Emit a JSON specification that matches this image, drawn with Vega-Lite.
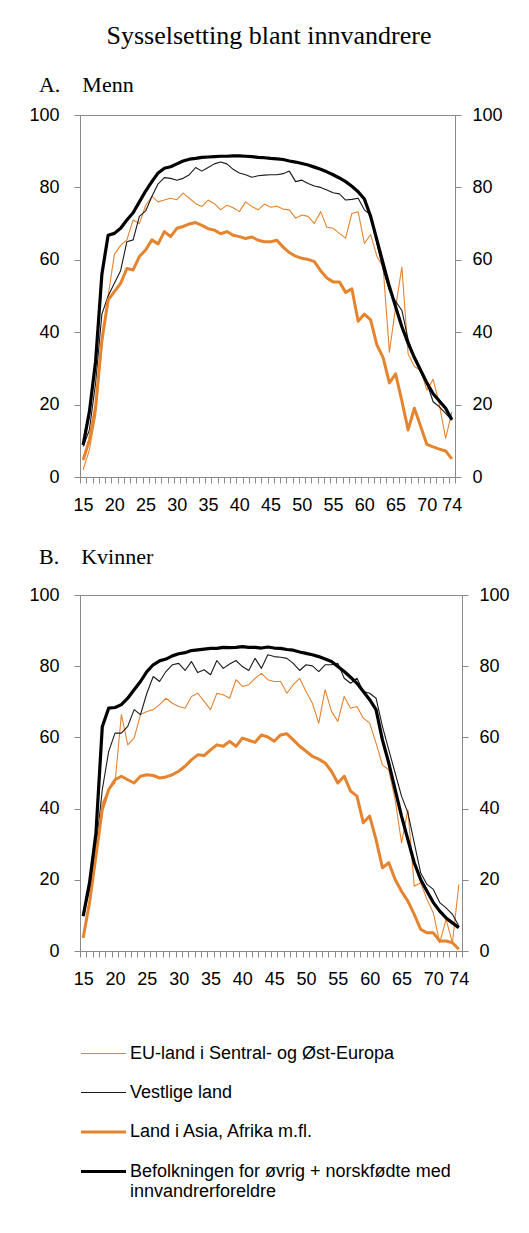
{
"$schema": "https://vega.github.io/schema/vega-lite/v6.json",
"background": "white",
"padding": {"left": 28, "top": 22, "right": 10, "bottom": 4},
"title": {"text": "Sysselsetting blant innvandrere", "font": "Liberation Serif", "fontSize": 26, "fontWeight": "normal", "color": "black", "anchor": "middle", "offset": 25},
"config": {
  "view": {"stroke": "#8a8a8a", "strokeWidth": 1},
  "axis": {"domainColor": "#8a8a8a", "tickColor": "#8a8a8a", "labelColor": "black", "labelFont": "Liberation Sans", "labelFontSize": 18, "grid": false, "title": null, "tickSize": 6}
},
"spacing": 30,
"resolve": {"scale": {"x": "independent", "y": "independent", "color": "shared", "strokeWidth": "shared"}},
"datasets": {"syss": [
{"kjonn":"Menn","gruppe":"EU","alder":15,"andel":2},{"kjonn":"Menn","gruppe":"EU","alder":16,"andel":7.5},{"kjonn":"Menn","gruppe":"EU","alder":17,"andel":17},{"kjonn":"Menn","gruppe":"EU","alder":18,"andel":36},{"kjonn":"Menn","gruppe":"EU","alder":19,"andel":50},{"kjonn":"Menn","gruppe":"EU","alder":20,"andel":61.5},{"kjonn":"Menn","gruppe":"EU","alder":21,"andel":64},{"kjonn":"Menn","gruppe":"EU","alder":22,"andel":65.5},{"kjonn":"Menn","gruppe":"EU","alder":23,"andel":71},{"kjonn":"Menn","gruppe":"EU","alder":24,"andel":70},
{"kjonn":"Menn","gruppe":"EU","alder":25,"andel":75},{"kjonn":"Menn","gruppe":"EU","alder":26,"andel":77.5},{"kjonn":"Menn","gruppe":"EU","alder":27,"andel":76},{"kjonn":"Menn","gruppe":"EU","alder":28,"andel":76.5},{"kjonn":"Menn","gruppe":"EU","alder":29,"andel":77},{"kjonn":"Menn","gruppe":"EU","alder":30,"andel":76.6},{"kjonn":"Menn","gruppe":"EU","alder":31,"andel":78.4},{"kjonn":"Menn","gruppe":"EU","alder":32,"andel":77},{"kjonn":"Menn","gruppe":"EU","alder":33,"andel":75.5},{"kjonn":"Menn","gruppe":"EU","alder":34,"andel":74.7},
{"kjonn":"Menn","gruppe":"EU","alder":35,"andel":76.5},{"kjonn":"Menn","gruppe":"EU","alder":36,"andel":75.5},{"kjonn":"Menn","gruppe":"EU","alder":37,"andel":73.8},{"kjonn":"Menn","gruppe":"EU","alder":38,"andel":75.1},{"kjonn":"Menn","gruppe":"EU","alder":39,"andel":74.4},{"kjonn":"Menn","gruppe":"EU","alder":40,"andel":73.3},{"kjonn":"Menn","gruppe":"EU","alder":41,"andel":76},{"kjonn":"Menn","gruppe":"EU","alder":42,"andel":74.7},{"kjonn":"Menn","gruppe":"EU","alder":43,"andel":73.8},{"kjonn":"Menn","gruppe":"EU","alder":44,"andel":75.4},
{"kjonn":"Menn","gruppe":"EU","alder":45,"andel":74.5},{"kjonn":"Menn","gruppe":"EU","alder":46,"andel":74.8},{"kjonn":"Menn","gruppe":"EU","alder":47,"andel":74},{"kjonn":"Menn","gruppe":"EU","alder":48,"andel":73.8},{"kjonn":"Menn","gruppe":"EU","alder":49,"andel":71.5},{"kjonn":"Menn","gruppe":"EU","alder":50,"andel":72.4},{"kjonn":"Menn","gruppe":"EU","alder":51,"andel":72},{"kjonn":"Menn","gruppe":"EU","alder":52,"andel":70},{"kjonn":"Menn","gruppe":"EU","alder":53,"andel":73.3},{"kjonn":"Menn","gruppe":"EU","alder":54,"andel":69},
{"kjonn":"Menn","gruppe":"EU","alder":55,"andel":68.7},{"kjonn":"Menn","gruppe":"EU","alder":56,"andel":67.3},{"kjonn":"Menn","gruppe":"EU","alder":57,"andel":66},{"kjonn":"Menn","gruppe":"EU","alder":58,"andel":72.8},{"kjonn":"Menn","gruppe":"EU","alder":59,"andel":73.3},{"kjonn":"Menn","gruppe":"EU","alder":60,"andel":64.5},{"kjonn":"Menn","gruppe":"EU","alder":61,"andel":67},{"kjonn":"Menn","gruppe":"EU","alder":62,"andel":61},{"kjonn":"Menn","gruppe":"EU","alder":63,"andel":58},{"kjonn":"Menn","gruppe":"EU","alder":64,"andel":34.5},
{"kjonn":"Menn","gruppe":"EU","alder":65,"andel":47},{"kjonn":"Menn","gruppe":"EU","alder":66,"andel":58},{"kjonn":"Menn","gruppe":"EU","alder":67,"andel":34},{"kjonn":"Menn","gruppe":"EU","alder":68,"andel":30.5},{"kjonn":"Menn","gruppe":"EU","alder":69,"andel":29.5},{"kjonn":"Menn","gruppe":"EU","alder":70,"andel":24},{"kjonn":"Menn","gruppe":"EU","alder":71,"andel":27},{"kjonn":"Menn","gruppe":"EU","alder":72,"andel":20},{"kjonn":"Menn","gruppe":"EU","alder":73,"andel":10.7},{"kjonn":"Menn","gruppe":"EU","alder":74,"andel":18},

{"kjonn":"Menn","gruppe":"Vest","alder":15,"andel":8.4},{"kjonn":"Menn","gruppe":"Vest","alder":16,"andel":13},{"kjonn":"Menn","gruppe":"Vest","alder":17,"andel":26},{"kjonn":"Menn","gruppe":"Vest","alder":18,"andel":45},{"kjonn":"Menn","gruppe":"Vest","alder":19,"andel":50},{"kjonn":"Menn","gruppe":"Vest","alder":20,"andel":53.5},{"kjonn":"Menn","gruppe":"Vest","alder":21,"andel":57},{"kjonn":"Menn","gruppe":"Vest","alder":22,"andel":65},{"kjonn":"Menn","gruppe":"Vest","alder":23,"andel":65.5},{"kjonn":"Menn","gruppe":"Vest","alder":24,"andel":72},
{"kjonn":"Menn","gruppe":"Vest","alder":25,"andel":73.5},{"kjonn":"Menn","gruppe":"Vest","alder":26,"andel":77.5},{"kjonn":"Menn","gruppe":"Vest","alder":27,"andel":81},{"kjonn":"Menn","gruppe":"Vest","alder":28,"andel":82.7},{"kjonn":"Menn","gruppe":"Vest","alder":29,"andel":82.5},{"kjonn":"Menn","gruppe":"Vest","alder":30,"andel":82},{"kjonn":"Menn","gruppe":"Vest","alder":31,"andel":82.5},{"kjonn":"Menn","gruppe":"Vest","alder":32,"andel":83.5},{"kjonn":"Menn","gruppe":"Vest","alder":33,"andel":85.5},{"kjonn":"Menn","gruppe":"Vest","alder":34,"andel":84.5},
{"kjonn":"Menn","gruppe":"Vest","alder":35,"andel":85.5},{"kjonn":"Menn","gruppe":"Vest","alder":36,"andel":86.5},{"kjonn":"Menn","gruppe":"Vest","alder":37,"andel":87},{"kjonn":"Menn","gruppe":"Vest","alder":38,"andel":86.5},{"kjonn":"Menn","gruppe":"Vest","alder":39,"andel":85},{"kjonn":"Menn","gruppe":"Vest","alder":40,"andel":84},{"kjonn":"Menn","gruppe":"Vest","alder":41,"andel":83.5},{"kjonn":"Menn","gruppe":"Vest","alder":42,"andel":82.8},{"kjonn":"Menn","gruppe":"Vest","alder":43,"andel":83.2},{"kjonn":"Menn","gruppe":"Vest","alder":44,"andel":83.4},
{"kjonn":"Menn","gruppe":"Vest","alder":45,"andel":83.5},{"kjonn":"Menn","gruppe":"Vest","alder":46,"andel":83.5},{"kjonn":"Menn","gruppe":"Vest","alder":47,"andel":83.8},{"kjonn":"Menn","gruppe":"Vest","alder":48,"andel":84.5},{"kjonn":"Menn","gruppe":"Vest","alder":49,"andel":81.6},{"kjonn":"Menn","gruppe":"Vest","alder":50,"andel":82},{"kjonn":"Menn","gruppe":"Vest","alder":51,"andel":81.1},{"kjonn":"Menn","gruppe":"Vest","alder":52,"andel":80.4},{"kjonn":"Menn","gruppe":"Vest","alder":53,"andel":80},{"kjonn":"Menn","gruppe":"Vest","alder":54,"andel":79.3},
{"kjonn":"Menn","gruppe":"Vest","alder":55,"andel":78.5},{"kjonn":"Menn","gruppe":"Vest","alder":56,"andel":78.2},{"kjonn":"Menn","gruppe":"Vest","alder":57,"andel":76.5},{"kjonn":"Menn","gruppe":"Vest","alder":58,"andel":76.7},{"kjonn":"Menn","gruppe":"Vest","alder":59,"andel":77},{"kjonn":"Menn","gruppe":"Vest","alder":60,"andel":73.8},{"kjonn":"Menn","gruppe":"Vest","alder":61,"andel":72.4},{"kjonn":"Menn","gruppe":"Vest","alder":62,"andel":64.5},{"kjonn":"Menn","gruppe":"Vest","alder":63,"andel":57.2},{"kjonn":"Menn","gruppe":"Vest","alder":64,"andel":51.5},
{"kjonn":"Menn","gruppe":"Vest","alder":65,"andel":48.5},{"kjonn":"Menn","gruppe":"Vest","alder":66,"andel":46},{"kjonn":"Menn","gruppe":"Vest","alder":67,"andel":38},{"kjonn":"Menn","gruppe":"Vest","alder":68,"andel":33},{"kjonn":"Menn","gruppe":"Vest","alder":69,"andel":29.5},{"kjonn":"Menn","gruppe":"Vest","alder":70,"andel":26},{"kjonn":"Menn","gruppe":"Vest","alder":71,"andel":20.8},{"kjonn":"Menn","gruppe":"Vest","alder":72,"andel":19.4},{"kjonn":"Menn","gruppe":"Vest","alder":73,"andel":17.6},{"kjonn":"Menn","gruppe":"Vest","alder":74,"andel":15.7},

{"kjonn":"Menn","gruppe":"Asia","alder":15,"andel":4.7},{"kjonn":"Menn","gruppe":"Asia","alder":16,"andel":10.2},{"kjonn":"Menn","gruppe":"Asia","alder":17,"andel":19.4},{"kjonn":"Menn","gruppe":"Asia","alder":18,"andel":37.8},{"kjonn":"Menn","gruppe":"Asia","alder":19,"andel":48.9},{"kjonn":"Menn","gruppe":"Asia","alder":20,"andel":51.2},{"kjonn":"Menn","gruppe":"Asia","alder":21,"andel":53.5},{"kjonn":"Menn","gruppe":"Asia","alder":22,"andel":57.6},{"kjonn":"Menn","gruppe":"Asia","alder":23,"andel":57.2},{"kjonn":"Menn","gruppe":"Asia","alder":24,"andel":60.9},
{"kjonn":"Menn","gruppe":"Asia","alder":25,"andel":62.7},{"kjonn":"Menn","gruppe":"Asia","alder":26,"andel":65.5},{"kjonn":"Menn","gruppe":"Asia","alder":27,"andel":64.4},{"kjonn":"Menn","gruppe":"Asia","alder":28,"andel":67.8},{"kjonn":"Menn","gruppe":"Asia","alder":29,"andel":66.4},{"kjonn":"Menn","gruppe":"Asia","alder":30,"andel":68.7},{"kjonn":"Menn","gruppe":"Asia","alder":31,"andel":69.2},{"kjonn":"Menn","gruppe":"Asia","alder":32,"andel":69.9},{"kjonn":"Menn","gruppe":"Asia","alder":33,"andel":70.3},{"kjonn":"Menn","gruppe":"Asia","alder":34,"andel":69.5},
{"kjonn":"Menn","gruppe":"Asia","alder":35,"andel":68.6},{"kjonn":"Menn","gruppe":"Asia","alder":36,"andel":68.2},{"kjonn":"Menn","gruppe":"Asia","alder":37,"andel":67.2},{"kjonn":"Menn","gruppe":"Asia","alder":38,"andel":67.8},{"kjonn":"Menn","gruppe":"Asia","alder":39,"andel":66.8},{"kjonn":"Menn","gruppe":"Asia","alder":40,"andel":66.4},{"kjonn":"Menn","gruppe":"Asia","alder":41,"andel":65.9},{"kjonn":"Menn","gruppe":"Asia","alder":42,"andel":66.3},{"kjonn":"Menn","gruppe":"Asia","alder":43,"andel":65.4},{"kjonn":"Menn","gruppe":"Asia","alder":44,"andel":65},
{"kjonn":"Menn","gruppe":"Asia","alder":45,"andel":65},{"kjonn":"Menn","gruppe":"Asia","alder":46,"andel":65.4},{"kjonn":"Menn","gruppe":"Asia","alder":47,"andel":63.5},{"kjonn":"Menn","gruppe":"Asia","alder":48,"andel":62},{"kjonn":"Menn","gruppe":"Asia","alder":49,"andel":61},{"kjonn":"Menn","gruppe":"Asia","alder":50,"andel":60.4},{"kjonn":"Menn","gruppe":"Asia","alder":51,"andel":60.1},{"kjonn":"Menn","gruppe":"Asia","alder":52,"andel":59.5},{"kjonn":"Menn","gruppe":"Asia","alder":53,"andel":57},{"kjonn":"Menn","gruppe":"Asia","alder":54,"andel":55},
{"kjonn":"Menn","gruppe":"Asia","alder":55,"andel":53.9},{"kjonn":"Menn","gruppe":"Asia","alder":56,"andel":53.9},{"kjonn":"Menn","gruppe":"Asia","alder":57,"andel":51},{"kjonn":"Menn","gruppe":"Asia","alder":58,"andel":52},{"kjonn":"Menn","gruppe":"Asia","alder":59,"andel":43},{"kjonn":"Menn","gruppe":"Asia","alder":60,"andel":45},{"kjonn":"Menn","gruppe":"Asia","alder":61,"andel":43.4},{"kjonn":"Menn","gruppe":"Asia","alder":62,"andel":36.5},{"kjonn":"Menn","gruppe":"Asia","alder":63,"andel":33},{"kjonn":"Menn","gruppe":"Asia","alder":64,"andel":26},
{"kjonn":"Menn","gruppe":"Asia","alder":65,"andel":28.5},{"kjonn":"Menn","gruppe":"Asia","alder":66,"andel":21},{"kjonn":"Menn","gruppe":"Asia","alder":67,"andel":13},{"kjonn":"Menn","gruppe":"Asia","alder":68,"andel":19},{"kjonn":"Menn","gruppe":"Asia","alder":69,"andel":14},{"kjonn":"Menn","gruppe":"Asia","alder":70,"andel":9},{"kjonn":"Menn","gruppe":"Asia","alder":71,"andel":8.3},{"kjonn":"Menn","gruppe":"Asia","alder":72,"andel":7.7},{"kjonn":"Menn","gruppe":"Asia","alder":73,"andel":7.2},{"kjonn":"Menn","gruppe":"Asia","alder":74,"andel":5},

{"kjonn":"Menn","gruppe":"Bef","alder":15,"andel":8.8},{"kjonn":"Menn","gruppe":"Bef","alder":16,"andel":18},{"kjonn":"Menn","gruppe":"Bef","alder":17,"andel":32},{"kjonn":"Menn","gruppe":"Bef","alder":18,"andel":56},{"kjonn":"Menn","gruppe":"Bef","alder":19,"andel":66.8},{"kjonn":"Menn","gruppe":"Bef","alder":20,"andel":67.3},{"kjonn":"Menn","gruppe":"Bef","alder":21,"andel":68.7},{"kjonn":"Menn","gruppe":"Bef","alder":22,"andel":71},{"kjonn":"Menn","gruppe":"Bef","alder":23,"andel":73},{"kjonn":"Menn","gruppe":"Bef","alder":24,"andel":76},
{"kjonn":"Menn","gruppe":"Bef","alder":25,"andel":79},{"kjonn":"Menn","gruppe":"Bef","alder":26,"andel":81.6},{"kjonn":"Menn","gruppe":"Bef","alder":27,"andel":84},{"kjonn":"Menn","gruppe":"Bef","alder":28,"andel":85.3},{"kjonn":"Menn","gruppe":"Bef","alder":29,"andel":85.7},{"kjonn":"Menn","gruppe":"Bef","alder":30,"andel":86.5},{"kjonn":"Menn","gruppe":"Bef","alder":31,"andel":87.3},{"kjonn":"Menn","gruppe":"Bef","alder":32,"andel":87.8},{"kjonn":"Menn","gruppe":"Bef","alder":33,"andel":88},{"kjonn":"Menn","gruppe":"Bef","alder":34,"andel":88.3},
{"kjonn":"Menn","gruppe":"Bef","alder":35,"andel":88.4},{"kjonn":"Menn","gruppe":"Bef","alder":36,"andel":88.5},{"kjonn":"Menn","gruppe":"Bef","alder":37,"andel":88.6},{"kjonn":"Menn","gruppe":"Bef","alder":38,"andel":88.6},{"kjonn":"Menn","gruppe":"Bef","alder":39,"andel":88.7},{"kjonn":"Menn","gruppe":"Bef","alder":40,"andel":88.7},{"kjonn":"Menn","gruppe":"Bef","alder":41,"andel":88.6},{"kjonn":"Menn","gruppe":"Bef","alder":42,"andel":88.5},{"kjonn":"Menn","gruppe":"Bef","alder":43,"andel":88.3},{"kjonn":"Menn","gruppe":"Bef","alder":44,"andel":88.2},
{"kjonn":"Menn","gruppe":"Bef","alder":45,"andel":88},{"kjonn":"Menn","gruppe":"Bef","alder":46,"andel":87.9},{"kjonn":"Menn","gruppe":"Bef","alder":47,"andel":87.7},{"kjonn":"Menn","gruppe":"Bef","alder":48,"andel":87.3},{"kjonn":"Menn","gruppe":"Bef","alder":49,"andel":87},{"kjonn":"Menn","gruppe":"Bef","alder":50,"andel":86.6},{"kjonn":"Menn","gruppe":"Bef","alder":51,"andel":86.2},{"kjonn":"Menn","gruppe":"Bef","alder":52,"andel":85.6},{"kjonn":"Menn","gruppe":"Bef","alder":53,"andel":85},{"kjonn":"Menn","gruppe":"Bef","alder":54,"andel":84.3},
{"kjonn":"Menn","gruppe":"Bef","alder":55,"andel":83.5},{"kjonn":"Menn","gruppe":"Bef","alder":56,"andel":82.6},{"kjonn":"Menn","gruppe":"Bef","alder":57,"andel":81.6},{"kjonn":"Menn","gruppe":"Bef","alder":58,"andel":80.3},{"kjonn":"Menn","gruppe":"Bef","alder":59,"andel":78.8},{"kjonn":"Menn","gruppe":"Bef","alder":60,"andel":76.8},{"kjonn":"Menn","gruppe":"Bef","alder":61,"andel":72},{"kjonn":"Menn","gruppe":"Bef","alder":62,"andel":65.5},{"kjonn":"Menn","gruppe":"Bef","alder":63,"andel":59},{"kjonn":"Menn","gruppe":"Bef","alder":64,"andel":52.6},
{"kjonn":"Menn","gruppe":"Bef","alder":65,"andel":47},{"kjonn":"Menn","gruppe":"Bef","alder":66,"andel":41.5},{"kjonn":"Menn","gruppe":"Bef","alder":67,"andel":37},{"kjonn":"Menn","gruppe":"Bef","alder":68,"andel":33},{"kjonn":"Menn","gruppe":"Bef","alder":69,"andel":29.5},{"kjonn":"Menn","gruppe":"Bef","alder":70,"andel":26},{"kjonn":"Menn","gruppe":"Bef","alder":71,"andel":23},{"kjonn":"Menn","gruppe":"Bef","alder":72,"andel":21},{"kjonn":"Menn","gruppe":"Bef","alder":73,"andel":19},{"kjonn":"Menn","gruppe":"Bef","alder":74,"andel":15.8},

{"kjonn":"Kvinner","gruppe":"EU","alder":15,"andel":3.7},{"kjonn":"Kvinner","gruppe":"EU","alder":16,"andel":13.6},{"kjonn":"Kvinner","gruppe":"EU","alder":17,"andel":25.7},{"kjonn":"Kvinner","gruppe":"EU","alder":18,"andel":41.6},{"kjonn":"Kvinner","gruppe":"EU","alder":19,"andel":45.3},{"kjonn":"Kvinner","gruppe":"EU","alder":20,"andel":47.2},{"kjonn":"Kvinner","gruppe":"EU","alder":21,"andel":66.4},{"kjonn":"Kvinner","gruppe":"EU","alder":22,"andel":57.9},{"kjonn":"Kvinner","gruppe":"EU","alder":23,"andel":59.8},{"kjonn":"Kvinner","gruppe":"EU","alder":24,"andel":66.4},
{"kjonn":"Kvinner","gruppe":"EU","alder":25,"andel":67.3},{"kjonn":"Kvinner","gruppe":"EU","alder":26,"andel":67.8},{"kjonn":"Kvinner","gruppe":"EU","alder":27,"andel":69.2},{"kjonn":"Kvinner","gruppe":"EU","alder":28,"andel":71},{"kjonn":"Kvinner","gruppe":"EU","alder":29,"andel":69.6},{"kjonn":"Kvinner","gruppe":"EU","alder":30,"andel":68.7},{"kjonn":"Kvinner","gruppe":"EU","alder":31,"andel":68.2},{"kjonn":"Kvinner","gruppe":"EU","alder":32,"andel":71.5},{"kjonn":"Kvinner","gruppe":"EU","alder":33,"andel":72.4},{"kjonn":"Kvinner","gruppe":"EU","alder":34,"andel":70.1},
{"kjonn":"Kvinner","gruppe":"EU","alder":35,"andel":67.8},{"kjonn":"Kvinner","gruppe":"EU","alder":36,"andel":72.4},{"kjonn":"Kvinner","gruppe":"EU","alder":37,"andel":72},{"kjonn":"Kvinner","gruppe":"EU","alder":38,"andel":71},{"kjonn":"Kvinner","gruppe":"EU","alder":39,"andel":76.2},{"kjonn":"Kvinner","gruppe":"EU","alder":40,"andel":74.3},{"kjonn":"Kvinner","gruppe":"EU","alder":41,"andel":74.8},{"kjonn":"Kvinner","gruppe":"EU","alder":42,"andel":76.6},{"kjonn":"Kvinner","gruppe":"EU","alder":43,"andel":78},{"kjonn":"Kvinner","gruppe":"EU","alder":44,"andel":76.2},
{"kjonn":"Kvinner","gruppe":"EU","alder":45,"andel":75.7},{"kjonn":"Kvinner","gruppe":"EU","alder":46,"andel":75.7},{"kjonn":"Kvinner","gruppe":"EU","alder":47,"andel":72.4},{"kjonn":"Kvinner","gruppe":"EU","alder":48,"andel":74.8},{"kjonn":"Kvinner","gruppe":"EU","alder":49,"andel":76.6},{"kjonn":"Kvinner","gruppe":"EU","alder":50,"andel":72.9},{"kjonn":"Kvinner","gruppe":"EU","alder":51,"andel":69.6},{"kjonn":"Kvinner","gruppe":"EU","alder":52,"andel":64},{"kjonn":"Kvinner","gruppe":"EU","alder":53,"andel":73.4},{"kjonn":"Kvinner","gruppe":"EU","alder":54,"andel":67.3},
{"kjonn":"Kvinner","gruppe":"EU","alder":55,"andel":64.5},{"kjonn":"Kvinner","gruppe":"EU","alder":56,"andel":71.5},{"kjonn":"Kvinner","gruppe":"EU","alder":57,"andel":68.2},{"kjonn":"Kvinner","gruppe":"EU","alder":58,"andel":68.7},{"kjonn":"Kvinner","gruppe":"EU","alder":59,"andel":65.4},{"kjonn":"Kvinner","gruppe":"EU","alder":60,"andel":64},{"kjonn":"Kvinner","gruppe":"EU","alder":61,"andel":58.4},{"kjonn":"Kvinner","gruppe":"EU","alder":62,"andel":52.3},{"kjonn":"Kvinner","gruppe":"EU","alder":63,"andel":50.9},{"kjonn":"Kvinner","gruppe":"EU","alder":64,"andel":42.5},
{"kjonn":"Kvinner","gruppe":"EU","alder":65,"andel":30.4},{"kjonn":"Kvinner","gruppe":"EU","alder":66,"andel":39.7},{"kjonn":"Kvinner","gruppe":"EU","alder":67,"andel":18.2},{"kjonn":"Kvinner","gruppe":"EU","alder":68,"andel":19.2},{"kjonn":"Kvinner","gruppe":"EU","alder":69,"andel":14.5},{"kjonn":"Kvinner","gruppe":"EU","alder":70,"andel":10.7},{"kjonn":"Kvinner","gruppe":"EU","alder":71,"andel":2.3},{"kjonn":"Kvinner","gruppe":"EU","alder":72,"andel":8.9},{"kjonn":"Kvinner","gruppe":"EU","alder":73,"andel":2.3},{"kjonn":"Kvinner","gruppe":"EU","alder":74,"andel":18.7},

{"kjonn":"Kvinner","gruppe":"Vest","alder":15,"andel":9.8},{"kjonn":"Kvinner","gruppe":"Vest","alder":16,"andel":17.3},{"kjonn":"Kvinner","gruppe":"Vest","alder":17,"andel":28.5},{"kjonn":"Kvinner","gruppe":"Vest","alder":18,"andel":45.3},{"kjonn":"Kvinner","gruppe":"Vest","alder":19,"andel":56},{"kjonn":"Kvinner","gruppe":"Vest","alder":20,"andel":61.2},{"kjonn":"Kvinner","gruppe":"Vest","alder":21,"andel":61.2},{"kjonn":"Kvinner","gruppe":"Vest","alder":22,"andel":63.1},{"kjonn":"Kvinner","gruppe":"Vest","alder":23,"andel":67.8},{"kjonn":"Kvinner","gruppe":"Vest","alder":24,"andel":66.4},
{"kjonn":"Kvinner","gruppe":"Vest","alder":25,"andel":72.4},{"kjonn":"Kvinner","gruppe":"Vest","alder":26,"andel":77.1},{"kjonn":"Kvinner","gruppe":"Vest","alder":27,"andel":75.7},{"kjonn":"Kvinner","gruppe":"Vest","alder":28,"andel":78.5},{"kjonn":"Kvinner","gruppe":"Vest","alder":29,"andel":80.4},{"kjonn":"Kvinner","gruppe":"Vest","alder":30,"andel":80.8},{"kjonn":"Kvinner","gruppe":"Vest","alder":31,"andel":78.8},{"kjonn":"Kvinner","gruppe":"Vest","alder":32,"andel":81.3},{"kjonn":"Kvinner","gruppe":"Vest","alder":33,"andel":78.2},{"kjonn":"Kvinner","gruppe":"Vest","alder":34,"andel":79},
{"kjonn":"Kvinner","gruppe":"Vest","alder":35,"andel":77.6},{"kjonn":"Kvinner","gruppe":"Vest","alder":36,"andel":81.6},{"kjonn":"Kvinner","gruppe":"Vest","alder":37,"andel":79.4},{"kjonn":"Kvinner","gruppe":"Vest","alder":38,"andel":80.6},{"kjonn":"Kvinner","gruppe":"Vest","alder":39,"andel":81.6},{"kjonn":"Kvinner","gruppe":"Vest","alder":40,"andel":79.9},{"kjonn":"Kvinner","gruppe":"Vest","alder":41,"andel":78.8},{"kjonn":"Kvinner","gruppe":"Vest","alder":42,"andel":82.2},{"kjonn":"Kvinner","gruppe":"Vest","alder":43,"andel":79.4},{"kjonn":"Kvinner","gruppe":"Vest","alder":44,"andel":83.2},
{"kjonn":"Kvinner","gruppe":"Vest","alder":45,"andel":82.7},{"kjonn":"Kvinner","gruppe":"Vest","alder":46,"andel":82.5},{"kjonn":"Kvinner","gruppe":"Vest","alder":47,"andel":82.2},{"kjonn":"Kvinner","gruppe":"Vest","alder":48,"andel":80.8},{"kjonn":"Kvinner","gruppe":"Vest","alder":49,"andel":78.8},{"kjonn":"Kvinner","gruppe":"Vest","alder":50,"andel":80.4},{"kjonn":"Kvinner","gruppe":"Vest","alder":51,"andel":80.1},{"kjonn":"Kvinner","gruppe":"Vest","alder":52,"andel":78.5},{"kjonn":"Kvinner","gruppe":"Vest","alder":53,"andel":80.4},{"kjonn":"Kvinner","gruppe":"Vest","alder":54,"andel":80.4},
{"kjonn":"Kvinner","gruppe":"Vest","alder":55,"andel":80.8},{"kjonn":"Kvinner","gruppe":"Vest","alder":56,"andel":76.6},{"kjonn":"Kvinner","gruppe":"Vest","alder":57,"andel":75.2},{"kjonn":"Kvinner","gruppe":"Vest","alder":58,"andel":76.6},{"kjonn":"Kvinner","gruppe":"Vest","alder":59,"andel":72.9},{"kjonn":"Kvinner","gruppe":"Vest","alder":60,"andel":72.4},{"kjonn":"Kvinner","gruppe":"Vest","alder":61,"andel":71},{"kjonn":"Kvinner","gruppe":"Vest","alder":62,"andel":63.1},{"kjonn":"Kvinner","gruppe":"Vest","alder":63,"andel":56.5},{"kjonn":"Kvinner","gruppe":"Vest","alder":64,"andel":50},
{"kjonn":"Kvinner","gruppe":"Vest","alder":65,"andel":43.5},{"kjonn":"Kvinner","gruppe":"Vest","alder":66,"andel":38.8},{"kjonn":"Kvinner","gruppe":"Vest","alder":67,"andel":30.4},{"kjonn":"Kvinner","gruppe":"Vest","alder":68,"andel":22},{"kjonn":"Kvinner","gruppe":"Vest","alder":69,"andel":18.7},{"kjonn":"Kvinner","gruppe":"Vest","alder":70,"andel":17.3},{"kjonn":"Kvinner","gruppe":"Vest","alder":71,"andel":13.6},{"kjonn":"Kvinner","gruppe":"Vest","alder":72,"andel":12.1},{"kjonn":"Kvinner","gruppe":"Vest","alder":73,"andel":10.3},{"kjonn":"Kvinner","gruppe":"Vest","alder":74,"andel":7},

{"kjonn":"Kvinner","gruppe":"Asia","alder":15,"andel":3.7},{"kjonn":"Kvinner","gruppe":"Asia","alder":16,"andel":13.6},{"kjonn":"Kvinner","gruppe":"Asia","alder":17,"andel":26.6},{"kjonn":"Kvinner","gruppe":"Asia","alder":18,"andel":39.7},{"kjonn":"Kvinner","gruppe":"Asia","alder":19,"andel":45.3},{"kjonn":"Kvinner","gruppe":"Asia","alder":20,"andel":48.1},{"kjonn":"Kvinner","gruppe":"Asia","alder":21,"andel":49.1},{"kjonn":"Kvinner","gruppe":"Asia","alder":22,"andel":48.1},{"kjonn":"Kvinner","gruppe":"Asia","alder":23,"andel":47.2},{"kjonn":"Kvinner","gruppe":"Asia","alder":24,"andel":49.1},
{"kjonn":"Kvinner","gruppe":"Asia","alder":25,"andel":49.5},{"kjonn":"Kvinner","gruppe":"Asia","alder":26,"andel":49.3},{"kjonn":"Kvinner","gruppe":"Asia","alder":27,"andel":48.6},{"kjonn":"Kvinner","gruppe":"Asia","alder":28,"andel":48.9},{"kjonn":"Kvinner","gruppe":"Asia","alder":29,"andel":49.5},{"kjonn":"Kvinner","gruppe":"Asia","alder":30,"andel":50.5},{"kjonn":"Kvinner","gruppe":"Asia","alder":31,"andel":51.9},{"kjonn":"Kvinner","gruppe":"Asia","alder":32,"andel":53.7},{"kjonn":"Kvinner","gruppe":"Asia","alder":33,"andel":55.1},{"kjonn":"Kvinner","gruppe":"Asia","alder":34,"andel":54.9},
{"kjonn":"Kvinner","gruppe":"Asia","alder":35,"andel":56.5},{"kjonn":"Kvinner","gruppe":"Asia","alder":36,"andel":57.9},{"kjonn":"Kvinner","gruppe":"Asia","alder":37,"andel":57.5},{"kjonn":"Kvinner","gruppe":"Asia","alder":38,"andel":58.9},{"kjonn":"Kvinner","gruppe":"Asia","alder":39,"andel":57.5},{"kjonn":"Kvinner","gruppe":"Asia","alder":40,"andel":59.8},{"kjonn":"Kvinner","gruppe":"Asia","alder":41,"andel":59.2},{"kjonn":"Kvinner","gruppe":"Asia","alder":42,"andel":58.6},{"kjonn":"Kvinner","gruppe":"Asia","alder":43,"andel":60.7},{"kjonn":"Kvinner","gruppe":"Asia","alder":44,"andel":60.1},
{"kjonn":"Kvinner","gruppe":"Asia","alder":45,"andel":58.9},{"kjonn":"Kvinner","gruppe":"Asia","alder":46,"andel":60.7},{"kjonn":"Kvinner","gruppe":"Asia","alder":47,"andel":61},{"kjonn":"Kvinner","gruppe":"Asia","alder":48,"andel":59.3},{"kjonn":"Kvinner","gruppe":"Asia","alder":49,"andel":57.5},{"kjonn":"Kvinner","gruppe":"Asia","alder":50,"andel":56.1},{"kjonn":"Kvinner","gruppe":"Asia","alder":51,"andel":54.7},{"kjonn":"Kvinner","gruppe":"Asia","alder":52,"andel":53.9},{"kjonn":"Kvinner","gruppe":"Asia","alder":53,"andel":52.8},{"kjonn":"Kvinner","gruppe":"Asia","alder":54,"andel":50.5},
{"kjonn":"Kvinner","gruppe":"Asia","alder":55,"andel":47.2},{"kjonn":"Kvinner","gruppe":"Asia","alder":56,"andel":49.1},{"kjonn":"Kvinner","gruppe":"Asia","alder":57,"andel":44.9},{"kjonn":"Kvinner","gruppe":"Asia","alder":58,"andel":43.5},{"kjonn":"Kvinner","gruppe":"Asia","alder":59,"andel":36},{"kjonn":"Kvinner","gruppe":"Asia","alder":60,"andel":37.9},{"kjonn":"Kvinner","gruppe":"Asia","alder":61,"andel":31.3},{"kjonn":"Kvinner","gruppe":"Asia","alder":62,"andel":23.4},{"kjonn":"Kvinner","gruppe":"Asia","alder":63,"andel":24.8},{"kjonn":"Kvinner","gruppe":"Asia","alder":64,"andel":20.1},
{"kjonn":"Kvinner","gruppe":"Asia","alder":65,"andel":16.8},{"kjonn":"Kvinner","gruppe":"Asia","alder":66,"andel":14},{"kjonn":"Kvinner","gruppe":"Asia","alder":67,"andel":10.3},{"kjonn":"Kvinner","gruppe":"Asia","alder":68,"andel":6.1},{"kjonn":"Kvinner","gruppe":"Asia","alder":69,"andel":5.1},{"kjonn":"Kvinner","gruppe":"Asia","alder":70,"andel":5.1},{"kjonn":"Kvinner","gruppe":"Asia","alder":71,"andel":2.8},{"kjonn":"Kvinner","gruppe":"Asia","alder":72,"andel":2.8},{"kjonn":"Kvinner","gruppe":"Asia","alder":73,"andel":2.3},{"kjonn":"Kvinner","gruppe":"Asia","alder":74,"andel":0.5},

{"kjonn":"Kvinner","gruppe":"Bef","alder":15,"andel":9.8},{"kjonn":"Kvinner","gruppe":"Bef","alder":16,"andel":19.2},{"kjonn":"Kvinner","gruppe":"Bef","alder":17,"andel":33},{"kjonn":"Kvinner","gruppe":"Bef","alder":18,"andel":63},{"kjonn":"Kvinner","gruppe":"Bef","alder":19,"andel":68.2},{"kjonn":"Kvinner","gruppe":"Bef","alder":20,"andel":68.4},{"kjonn":"Kvinner","gruppe":"Bef","alder":21,"andel":69.2},{"kjonn":"Kvinner","gruppe":"Bef","alder":22,"andel":71},{"kjonn":"Kvinner","gruppe":"Bef","alder":23,"andel":73.4},{"kjonn":"Kvinner","gruppe":"Bef","alder":24,"andel":75.7},
{"kjonn":"Kvinner","gruppe":"Bef","alder":25,"andel":78.5},{"kjonn":"Kvinner","gruppe":"Bef","alder":26,"andel":80.4},{"kjonn":"Kvinner","gruppe":"Bef","alder":27,"andel":81.5},{"kjonn":"Kvinner","gruppe":"Bef","alder":28,"andel":82},{"kjonn":"Kvinner","gruppe":"Bef","alder":29,"andel":82.9},{"kjonn":"Kvinner","gruppe":"Bef","alder":30,"andel":83.5},{"kjonn":"Kvinner","gruppe":"Bef","alder":31,"andel":83.8},{"kjonn":"Kvinner","gruppe":"Bef","alder":32,"andel":84.4},{"kjonn":"Kvinner","gruppe":"Bef","alder":33,"andel":84.6},{"kjonn":"Kvinner","gruppe":"Bef","alder":34,"andel":84.8},
{"kjonn":"Kvinner","gruppe":"Bef","alder":35,"andel":85},{"kjonn":"Kvinner","gruppe":"Bef","alder":36,"andel":85},{"kjonn":"Kvinner","gruppe":"Bef","alder":37,"andel":85.3},{"kjonn":"Kvinner","gruppe":"Bef","alder":38,"andel":85.2},{"kjonn":"Kvinner","gruppe":"Bef","alder":39,"andel":85.3},{"kjonn":"Kvinner","gruppe":"Bef","alder":40,"andel":85.5},{"kjonn":"Kvinner","gruppe":"Bef","alder":41,"andel":85.3},{"kjonn":"Kvinner","gruppe":"Bef","alder":42,"andel":85.3},{"kjonn":"Kvinner","gruppe":"Bef","alder":43,"andel":85.1},{"kjonn":"Kvinner","gruppe":"Bef","alder":44,"andel":85.4},
{"kjonn":"Kvinner","gruppe":"Bef","alder":45,"andel":85.1},{"kjonn":"Kvinner","gruppe":"Bef","alder":46,"andel":85},{"kjonn":"Kvinner","gruppe":"Bef","alder":47,"andel":84.7},{"kjonn":"Kvinner","gruppe":"Bef","alder":48,"andel":84.5},{"kjonn":"Kvinner","gruppe":"Bef","alder":49,"andel":84},{"kjonn":"Kvinner","gruppe":"Bef","alder":50,"andel":83.6},{"kjonn":"Kvinner","gruppe":"Bef","alder":51,"andel":83.2},{"kjonn":"Kvinner","gruppe":"Bef","alder":52,"andel":82.7},{"kjonn":"Kvinner","gruppe":"Bef","alder":53,"andel":82},{"kjonn":"Kvinner","gruppe":"Bef","alder":54,"andel":81.3},
{"kjonn":"Kvinner","gruppe":"Bef","alder":55,"andel":79.9},{"kjonn":"Kvinner","gruppe":"Bef","alder":56,"andel":78.5},{"kjonn":"Kvinner","gruppe":"Bef","alder":57,"andel":76.9},{"kjonn":"Kvinner","gruppe":"Bef","alder":58,"andel":75.2},{"kjonn":"Kvinner","gruppe":"Bef","alder":59,"andel":72.9},{"kjonn":"Kvinner","gruppe":"Bef","alder":60,"andel":70.6},{"kjonn":"Kvinner","gruppe":"Bef","alder":61,"andel":67.8},{"kjonn":"Kvinner","gruppe":"Bef","alder":62,"andel":59.3},{"kjonn":"Kvinner","gruppe":"Bef","alder":63,"andel":52.8},{"kjonn":"Kvinner","gruppe":"Bef","alder":64,"andel":45.3},
{"kjonn":"Kvinner","gruppe":"Bef","alder":65,"andel":37.9},{"kjonn":"Kvinner","gruppe":"Bef","alder":66,"andel":31.3},{"kjonn":"Kvinner","gruppe":"Bef","alder":67,"andel":24.8},{"kjonn":"Kvinner","gruppe":"Bef","alder":68,"andel":20.1},{"kjonn":"Kvinner","gruppe":"Bef","alder":69,"andel":16.8},{"kjonn":"Kvinner","gruppe":"Bef","alder":70,"andel":13.6},{"kjonn":"Kvinner","gruppe":"Bef","alder":71,"andel":11.2},{"kjonn":"Kvinner","gruppe":"Bef","alder":72,"andel":9.3},{"kjonn":"Kvinner","gruppe":"Bef","alder":73,"andel":7.9},{"kjonn":"Kvinner","gruppe":"Bef","alder":74,"andel":6.5}
]},
"vconcat": [
{
  "title": {"text": "A.\u00a0\u00a0\u00a0 Menn", "anchor": "start", "frame": "bounds", "font": "Liberation Serif", "fontSize": 22, "fontWeight": "normal", "color": "black", "dx": 10, "offset": 9},
  "width": 375, "height": 362,
  "data": {"name": "syss"},
  "transform": [{"filter": "datum.kjonn == 'Menn'"}],
  "encoding": {
    "x": {"field": "alder", "type": "quantitative", "scale": {"domain": [14.5, 74.5], "nice": false, "zero": false},
          "axis": {"values": [14.5,15.5,16.5,17.5,18.5,19.5,20.5,21.5,22.5,23.5,24.5,25.5,26.5,27.5,28.5,29.5,30.5,31.5,32.5,33.5,34.5,35.5,36.5,37.5,38.5,39.5,40.5,41.5,42.5,43.5,44.5,45.5,46.5,47.5,48.5,49.5,50.5,51.5,52.5,53.5,54.5,55.5,56.5,57.5,58.5,59.5,60.5,61.5,62.5,63.5,64.5,65.5,66.5,67.5,68.5,69.5,70.5,71.5,72.5,73.5,74.5],
                   "labelExpr": "indexof([15,20,25,30,35,40,45,50,55,60,65,70,74], datum.value + 0.5) >= 0 ? '' + (datum.value + 0.5) : ''",
                   "labelOffset": 3.1, "labelOverlap": false, "labelBound": false, "labelFlush": false, "labelPadding": 13, "tickSize": 6}}
  },
  "layer": [
    {"mark": {"type": "line", "strokeJoin": "round"},
     "encoding": {
       "y": {"field": "andel", "type": "quantitative", "scale": {"domain": [0, 100]}, "axis": {"orient": "left", "values": [0,20,40,60,80,100], "labelPadding": 15}},
       "color": {"field": "gruppe", "type": "nominal", "scale": {"domain": ["EU","Vest","Asia","Bef"], "range": ["#E5842F","#1a1a1a","#E5842F","#000000"]},
                 "legend": {"orient": "none", "legendX": -1, "legendY": 915, "direction": "vertical", "title": null, "symbolType": "stroke", "symbolSize": 2025, "labelFont": "Liberation Sans", "labelFontSize": 18, "labelColor": "black", "labelOffset": 2, "rowPadding": 6, "labelLimit": 500,
                            "labelExpr": "datum.value == 'EU' ? 'EU-land i Sentral- og Øst-Europa' : datum.value == 'Vest' ? 'Vestlige land' : datum.value == 'Asia' ? 'Land i Asia, Afrika m.fl.' : ['Befolkningen for øvrig + norskfødte med', 'innvandrerforeldre']"}},
       "strokeWidth": {"field": "gruppe", "type": "ordinal", "scale": {"type": "ordinal", "domain": ["EU","Vest","Asia","Bef"], "range": [1.1, 1.1, 3, 3.2]},
                 "legend": {"orient": "none", "legendX": -1, "legendY": 915, "direction": "vertical", "title": null, "symbolType": "stroke", "symbolSize": 2025, "labelFont": "Liberation Sans", "labelFontSize": 18, "labelColor": "black", "labelOffset": 2, "rowPadding": 6, "labelLimit": 500,
                            "labelExpr": "datum.value == 'EU' ? 'EU-land i Sentral- og Øst-Europa' : datum.value == 'Vest' ? 'Vestlige land' : datum.value == 'Asia' ? 'Land i Asia, Afrika m.fl.' : ['Befolkningen for øvrig + norskfødte med', 'innvandrerforeldre']"}}
     }},
    {"mark": {"type": "line", "strokeOpacity": 0},
     "encoding": {
       "y": {"field": "andel", "type": "quantitative", "axis": {"orient": "right", "values": [0,20,40,60,80,100], "labelPadding": 11}},
       "detail": {"field": "gruppe"}
     }}
  ],
  "resolve": {"axis": {"y": "independent"}}
},
{
  "title": {"text": "B.\u00a0\u00a0\u00a0 Kvinner", "anchor": "start", "frame": "bounds", "font": "Liberation Serif", "fontSize": 22, "fontWeight": "normal", "color": "black", "dx": 10, "offset": 17},
  "width": 382, "height": 356,
  "data": {"name": "syss"},
  "transform": [{"filter": "datum.kjonn == 'Kvinner'"}],
  "encoding": {
    "x": {"field": "alder", "type": "quantitative", "scale": {"domain": [14.5, 74.5], "nice": false, "zero": false},
          "axis": {"values": [14.5,15.5,16.5,17.5,18.5,19.5,20.5,21.5,22.5,23.5,24.5,25.5,26.5,27.5,28.5,29.5,30.5,31.5,32.5,33.5,34.5,35.5,36.5,37.5,38.5,39.5,40.5,41.5,42.5,43.5,44.5,45.5,46.5,47.5,48.5,49.5,50.5,51.5,52.5,53.5,54.5,55.5,56.5,57.5,58.5,59.5,60.5,61.5,62.5,63.5,64.5,65.5,66.5,67.5,68.5,69.5,70.5,71.5,72.5,73.5,74.5],
                   "labelExpr": "indexof([15,20,25,30,35,40,45,50,55,60,65,70,74], datum.value + 0.5) >= 0 ? '' + (datum.value + 0.5) : ''",
                   "labelOffset": 3.2, "labelOverlap": false, "labelBound": false, "labelFlush": false, "labelPadding": 13, "tickSize": 6}}
  },
  "layer": [
    {"mark": {"type": "line", "strokeJoin": "round"},
     "encoding": {
       "y": {"field": "andel", "type": "quantitative", "scale": {"domain": [0, 100]}, "axis": {"orient": "left", "values": [0,20,40,60,80,100], "labelPadding": 15}},
       "color": {"field": "gruppe", "type": "nominal", "scale": {"domain": ["EU","Vest","Asia","Bef"], "range": ["#E5842F","#1a1a1a","#E5842F","#000000"]}, "legend": null},
       "strokeWidth": {"field": "gruppe", "type": "ordinal", "scale": {"type": "ordinal", "domain": ["EU","Vest","Asia","Bef"], "range": [1.1, 1.1, 3, 3.2]}, "legend": null}
     }},
    {"mark": {"type": "line", "strokeOpacity": 0},
     "encoding": {
       "y": {"field": "andel", "type": "quantitative", "axis": {"orient": "right", "values": [0,20,40,60,80,100], "labelPadding": 11}},
       "detail": {"field": "gruppe"}
     }}
  ],
  "resolve": {"axis": {"y": "independent"}}
}
]
}
